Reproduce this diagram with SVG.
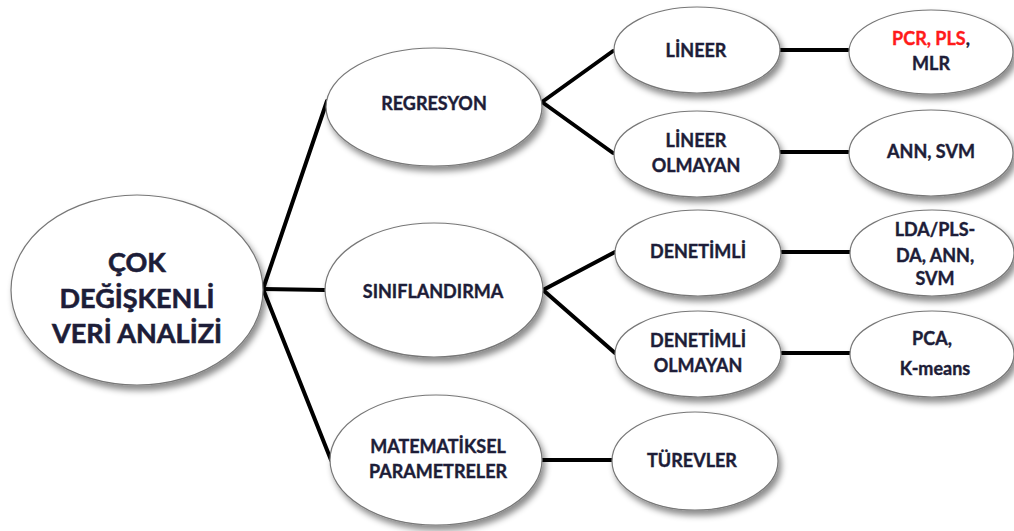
<svg xmlns="http://www.w3.org/2000/svg" width="1014" height="531" viewBox="0 0 1014 531">
<defs>
<filter id="sh" x="-20%" y="-20%" width="150%" height="160%">
<feDropShadow dx="3" dy="5" stdDeviation="3" flood-color="#000" flood-opacity="0.45"/>
</filter>
</defs>
<style>
.n ellipse{fill:#fff;stroke:#777;stroke-width:1.2;filter:url(#sh)}
.n text{font-family:Lato,"Liberation Sans",sans-serif;font-weight:bold;font-size:18px;fill:#1d1d38;stroke:#1d1d38;stroke-width:0.4;text-anchor:middle}
.big text{font-size:27px;stroke-width:0.6}
.c line{stroke:#000;stroke-width:4;stroke-linecap:round}
.n text .red{fill:#ff1a1a;stroke:#ff1a1a}
</style>
<rect width="1014" height="531" fill="#fff"/>
<g class="c" id="connectors">
<line x1="263" y1="289" x2="327" y2="101"/>
<line x1="263" y1="289" x2="325" y2="290"/>
<line x1="263" y1="289" x2="331" y2="460"/>
<line x1="542" y1="102" x2="613" y2="51"/>
<line x1="542" y1="102" x2="613" y2="153"/>
<line x1="780" y1="50" x2="848" y2="50"/>
<line x1="780" y1="152" x2="848" y2="152"/>
<line x1="543" y1="290" x2="615" y2="252"/>
<line x1="543" y1="290" x2="615" y2="353"/>
<line x1="782" y1="252" x2="850" y2="252"/>
<line x1="782" y1="353" x2="850" y2="353"/>
<line x1="542" y1="460" x2="612" y2="460"/>
</g>
<g class="n big" id="root">
<ellipse cx="137" cy="290" rx="126" ry="95"/>
<text x="137" y="272">ÇOK</text>
<text x="137" y="308">DEĞİŞKENLİ</text>
<text x="137" y="343">VERİ ANALİZİ</text>
</g>
<g class="n" id="regresyon">
<ellipse cx="434" cy="107" rx="108" ry="59"/>
<text x="434" y="110">REGRESYON</text>
</g>
<g class="n" id="siniflandirma">
<ellipse cx="434" cy="290" rx="109" ry="67"/>
<text x="433" y="298">SINIFLANDIRMA</text>
</g>
<g class="n" id="matematiksel">
<ellipse cx="436" cy="460" rx="106" ry="65"/>
<text x="438" y="453">MATEMATİKSEL</text>
<text x="438" y="478">PARAMETRELER</text>
</g>
<g class="n" id="lineer">
<ellipse cx="697" cy="50" rx="83" ry="43"/>
<text x="696" y="57">LİNEER</text>
</g>
<g class="n" id="lineer-olmayan">
<ellipse cx="697" cy="154" rx="83" ry="43"/>
<text x="696" y="147">LİNEER</text>
<text x="696" y="172">OLMAYAN</text>
</g>
<g class="n" id="pcr">
<ellipse cx="931" cy="52" rx="82" ry="42"/>
<text x="931" y="45"><tspan class="red">PCR, PLS</tspan>,</text>
<text x="931" y="70">MLR</text>
</g>
<g class="n" id="ann-svm">
<ellipse cx="931" cy="153" rx="82" ry="43"/>
<text x="931" y="158">ANN, SVM</text>
</g>
<g class="n" id="denetimli">
<ellipse cx="698" cy="253" rx="83" ry="43"/>
<text x="698" y="258">DENETİMLİ</text>
</g>
<g class="n" id="denetimli-olmayan">
<ellipse cx="698" cy="354" rx="83" ry="43"/>
<text x="698" y="347">DENETİMLİ</text>
<text x="698" y="372">OLMAYAN</text>
</g>
<g class="n" id="lda">
<ellipse cx="932" cy="253" rx="82" ry="43"/>
<text x="935" y="236">LDA/PLS-</text>
<text x="935" y="262">DA, ANN,</text>
<text x="935" y="285">SVM</text>
</g>
<g class="n" id="pca">
<ellipse cx="932" cy="354" rx="82" ry="43"/>
<text x="932" y="345">PCA,</text>
<text x="935" y="375">K-means</text>
</g>
<g class="n" id="turevler">
<ellipse cx="695" cy="461" rx="83" ry="49"/>
<text x="692" y="467">TÜREVLER</text>
</g>
</svg>
